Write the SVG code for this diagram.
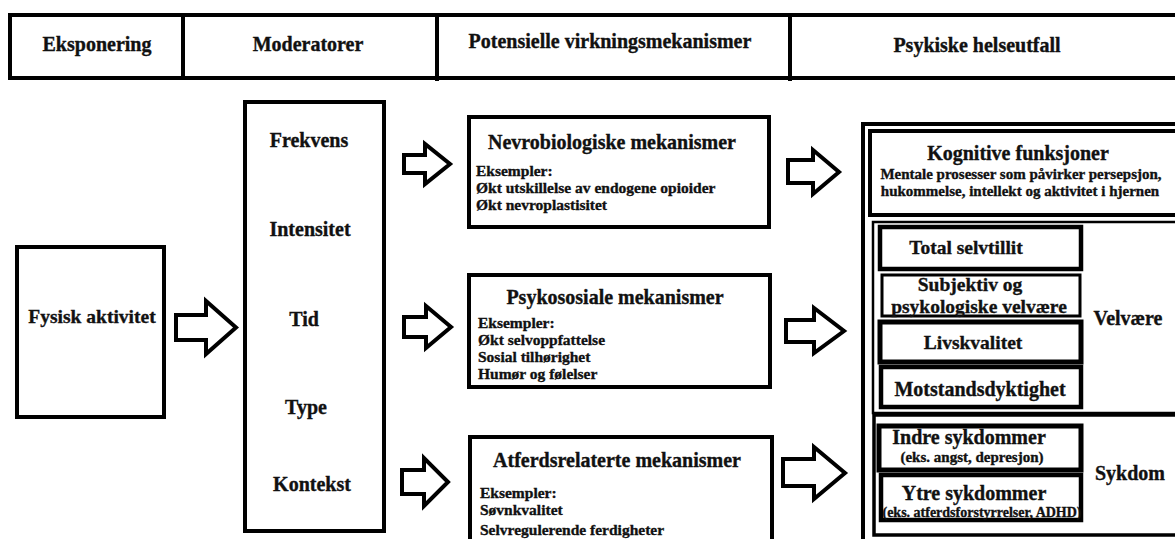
<svg xmlns="http://www.w3.org/2000/svg" width="1175" height="539" viewBox="0 0 1175 539">
  <style>
    text { font-family: "Liberation Serif", "Times New Roman", serif; font-weight: bold; fill: #111; stroke: #111; stroke-width: 0.35; }
    .h { font-size: 20px; text-anchor: middle; }
    .m { font-size: 15.5px; }
    .s { font-size: 15px; text-anchor: middle; }
    .xs { font-size: 14px; text-anchor: middle; }
    .box { fill: #fff; stroke: #000; stroke-width: 4; }
    .thin { fill: #fff; stroke: #000; stroke-width: 2.5; }
    .arrow { fill: #fff; stroke: #000; stroke-width: 4; stroke-linejoin: miter; }
  </style>
  <rect width="1175" height="539" fill="#fff"/>

  <!-- column headings -->
  <g id="header">
    <rect class="box" x="10" y="15" width="1180" height="63"/>
    <line x1="183" y1="15" x2="183" y2="78" stroke="#000" stroke-width="4"/>
    <line x1="437" y1="15" x2="437" y2="81" stroke="#000" stroke-width="4"/>
    <line x1="790" y1="15" x2="790" y2="81" stroke="#000" stroke-width="4"/>
    <text class="h" x="97" y="51">Eksponering</text>
    <text class="h" x="308" y="51">Moderatorer</text>
    <text class="h" x="610" y="48">Potensielle virkningsmekanismer</text>
    <text class="h" x="977" y="52">Psykiske helseutfall</text>
  </g>

  <!-- exposure -->
  <g id="exposure">
    <rect class="box" x="17" y="247" width="147" height="170"/>
    <text class="h" x="92" y="323" style="font-size:19.5px">Fysisk aktivitet</text>
  </g>

  <!-- moderators -->
  <g id="moderators">
    <rect class="box" x="245" y="102" width="139" height="429"/>
    <text class="h" x="309" y="147">Frekvens</text>
    <text class="h" x="310" y="236">Intensitet</text>
    <text class="h" x="304" y="326">Tid</text>
    <text class="h" x="306" y="414">Type</text>
    <text class="h" x="312" y="491">Kontekst</text>
  </g>

  <!-- mechanisms -->
  <g id="mech-neuro">
    <rect class="box" x="469" y="117" width="300" height="110"/>
    <text class="h" x="612" y="149">Nevrobiologiske mekanismer</text>
    <text class="m" x="476" y="176">Eksempler:</text>
    <text class="m" x="476" y="193">Økt utskillelse av endogene opioider</text>
    <text class="m" x="476" y="210">Økt nevroplastisitet</text>
  </g>
  <g id="mech-psychosocial">
    <rect class="box" x="469" y="275" width="301" height="112"/>
    <text class="h" x="615" y="304">Psykososiale mekanismer</text>
    <text class="m" x="478" y="328">Eksempler:</text>
    <text class="m" x="478" y="345">Økt selvoppfattelse</text>
    <text class="m" x="478" y="362">Sosial tilhørighet</text>
    <text class="m" x="478" y="379">Humør og følelser</text>
  </g>
  <g id="mech-behaviour">
    <rect class="box" x="470" y="437" width="302" height="130"/>
    <text class="h" x="617" y="467">Atferdsrelaterte mekanismer</text>
    <text class="m" x="480" y="498">Eksempler:</text>
    <text class="m" x="480" y="515">Søvnkvalitet</text>
    <text class="m" x="480" y="535">Selvregulerende ferdigheter</text>
  </g>

  <!-- outcomes -->
  <g id="outcomes">
    <rect class="box" x="863" y="124" width="400" height="450"/>
  </g>
  <g id="cognitive">
    <rect class="box" x="870" y="131" width="320" height="84"/>
    <text class="h" x="1018" y="160">Kognitive funksjoner</text>
    <text class="s" x="1021" y="179">Mentale prosesser som påvirker persepsjon,</text>
    <text class="s" x="1020" y="196">hukommelse, intellekt og aktivitet i hjernen</text>
  </g>
  <g id="wellbeing">
    <rect class="thin" x="873" y="222" width="320" height="191"/>
    <text class="h" x="1128" y="325">Velvære</text>
  </g>
  <g id="self-esteem">
    <rect class="box" x="880" y="227" width="201" height="42" style="stroke-width:4.5"/>
    <text class="h" x="966" y="254" style="font-size:19.5px">Total selvtillit</text>
  </g>
  <g id="subjective">
    <rect class="box" x="882" y="275" width="198" height="41" style="stroke-width:3"/>
    <text class="h" x="970" y="291" style="font-size:19.5px">Subjektiv og</text>
    <text class="h" x="979" y="313" style="font-size:19.5px">psykologiske velvære</text>
  </g>
  <g id="quality-of-life">
    <rect class="box" x="880" y="322" width="201" height="40" style="stroke-width:5"/>
    <text class="h" x="973" y="349" style="font-size:19.5px">Livskvalitet</text>
  </g>
  <g id="resilience">
    <rect class="box" x="881" y="367" width="200" height="40" style="stroke-width:4.5"/>
    <text class="h" x="980" y="396">Motstandsdyktighet</text>
  </g>
  <g id="illness">
    <rect class="box" x="874" y="415" width="320" height="120" style="stroke-width:3.5"/>
    <text class="h" x="1130" y="480">Sykdom</text>
  </g>
  <g id="internal">
    <rect class="box" x="879" y="426" width="202" height="44" style="stroke-width:5"/>
    <text class="h" x="969" y="444">Indre sykdommer</text>
    <text class="s" x="972" y="462">(eks. angst, depresjon)</text>
  </g>
  <g id="external">
    <rect class="box" x="881" y="475" width="200" height="45" style="stroke-width:4.5"/>
    <text class="h" x="974" y="500">Ytre sykdommer</text>
    <text class="xs" x="982" y="517">(eks. atferdsforstyrrelser, ADHD)</text>
  </g>

  <!-- block arrows -->
  <g id="connectors">
    <path class="arrow" d="M176,315 H206 V301 L236,327.5 L206,354 V340 H176 Z"/>
    <path class="arrow" d="M404,155 H425 V144 L450,164 L425,184 V173 H404 Z"/>
    <path class="arrow" d="M404,317 H426 V306 L451,327 L426,348 V337 H404 Z"/>
    <path class="arrow" d="M402,470 H424 V458 L448,482 L424,506 V494 H402 Z"/>
    <path class="arrow" d="M788,160 H813 V150 L839,172 L813,194 V183 H788 Z"/>
    <path class="arrow" d="M786,320 H814 V308 L844,331 L814,353 V342 H786 Z"/>
    <path class="arrow" d="M783,459 H814 V447 L845,473 L814,499 V486 H783 Z"/>
  </g>
</svg>
